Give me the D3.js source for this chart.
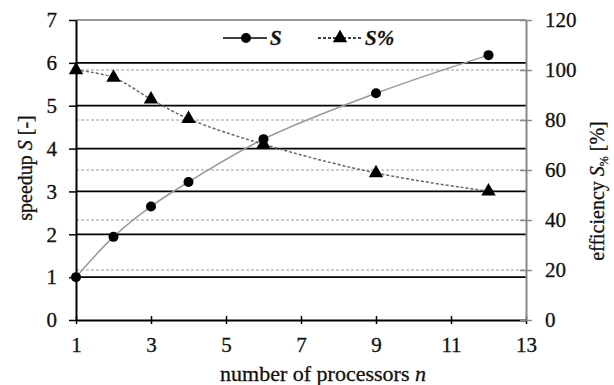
<!DOCTYPE html>
<html><head><meta charset="utf-8">
<script src="https://cdn.jsdelivr.net/npm/d3@7"></script>
<style>
body{margin:0;background:#fff}
text{font-family:"Liberation Serif","Times New Roman",serif;fill:#111;stroke:#111;stroke-width:0.3px}
</style></head><body>
<svg id="c" width="614" height="385"></svg>
<script>
const processors = [1, 2, 3, 4, 6, 9, 12];
const speedup = [1.0, 1.94, 2.65, 3.22, 4.22, 5.29, 6.18];
const efficiency = [100, 97, 88.3, 80.5, 70.3, 58.8, 51.5];
const xTicks = [1, 3, 5, 7, 9, 11, 13];
const yLeftTicks = [0, 1, 2, 3, 4, 5, 6, 7];
const yRightTicks = [0, 20, 40, 60, 80, 100, 120];

const svg = d3.select("#c");
const L = 76, R = 526, T = 20, B = 320;
const x = d3.scaleLinear().domain([1, 13]).range([L, R]);
const yL = d3.scaleLinear().domain([0, 7]).range([B, T]);
const yR = d3.scaleLinear().domain([0, 120]).range([B, T]);

// dashed grid from right axis
svg.append("g").selectAll("line").data(yRightTicks.filter(d => d > 0 && d < 120)).join("line")
  .attr("x1", L).attr("x2", R).attr("y1", d => yR(d)).attr("y2", d => yR(d))
  .attr("stroke", "#999").attr("stroke-width", 1).attr("stroke-dasharray", "3,2");
// top gray line
svg.append("line").attr("x1", L).attr("x2", R).attr("y1", yR(120)).attr("y2", yR(120))
  .attr("stroke", "#999").attr("stroke-width", 2);
// solid black grid from left axis
svg.append("g").selectAll("line").data(yLeftTicks.filter(d => d > 0 && d < 7)).join("line")
  .attr("x1", L).attr("x2", R).attr("y1", d => yL(d)).attr("y2", d => yL(d))
  .attr("stroke", "#000").attr("stroke-width", 1.7);

// axes
const fs = "21px";
const fmt = d3.format("d");
const gx = svg.append("g").attr("transform", `translate(0,${B})`)
  .call(d3.axisBottom(x).tickValues(xTicks).tickFormat(fmt).tickSizeInner(4).tickSizeOuter(0).tickPadding(13));
gx.select(".domain").attr("stroke", "#000").attr("stroke-width", 2);
gx.selectAll(".tick line").attr("stroke", "#000").attr("stroke-width", 1.5).attr("y1", -4);
gx.selectAll("text").style("font-size", fs).attr("fill", "#111");

const gl = svg.append("g").attr("transform", `translate(${L},0)`)
  .call(d3.axisLeft(yL).tickValues(yLeftTicks).tickFormat(fmt).tickSizeInner(7).tickSizeOuter(0).tickPadding(12));
gl.select(".domain").attr("stroke", "#000").attr("stroke-width", 2);
gl.selectAll(".tick line").attr("stroke", "#000").attr("stroke-width", 1.5);
gl.selectAll("text").style("font-size", fs).attr("fill", "#111");

const gr = svg.append("g").attr("transform", `translate(${R},0)`)
  .call(d3.axisRight(yR).tickValues(yRightTicks).tickFormat(fmt).tickSizeInner(6).tickSizeOuter(0).tickPadding(13));
gr.select(".domain").attr("stroke", "#888").attr("stroke-width", 2);
gr.selectAll(".tick line").attr("stroke", "#888").attr("stroke-width", 1.5).attr("x1", -6);
gr.selectAll("text").style("font-size", fs).attr("fill", "#111");

// lines
const pts1 = processors.map((p, i) => [x(p), yL(speedup[i])]);
const pts2 = processors.map((p, i) => [x(p), yR(efficiency[i])]);
const line = d3.line().curve(d3.curveCatmullRom.alpha(0.5));
svg.append("path").attr("d", line(pts1)).attr("fill", "none").attr("stroke", "#999").attr("stroke-width", 1.5);
svg.append("path").attr("d", line(pts2)).attr("fill", "none").attr("stroke", "#666").attr("stroke-width", 1.5).attr("stroke-dasharray", "3,2");

const tri = d3.symbol().type(d3.symbolTriangle).size(90);
svg.append("g").selectAll("path").data(pts2).join("path")
  .attr("d", tri).attr("transform", d => `translate(${d[0]},${d[1]})`).attr("fill", "#000");
svg.append("g").selectAll("circle").data(pts1).join("circle")
  .attr("cx", d => d[0]).attr("cy", d => d[1]).attr("r", 5).attr("fill", "#000");

// legend
const lg = svg.append("g");
lg.append("line").attr("x1", 223).attr("x2", 267).attr("y1", 38).attr("y2", 38).attr("stroke", "#000").attr("stroke-width", 1.5);
lg.append("circle").attr("cx", 246).attr("cy", 38).attr("r", 5).attr("fill", "#000");
lg.append("text").attr("x", 270).attr("y", 45).style("font-size", fs).style("font-style", "italic").style("font-weight", "bold").text("S");
lg.append("line").attr("x1", 318).attr("x2", 363).attr("y1", 38).attr("y2", 38).attr("stroke", "#000").attr("stroke-width", 1.5).attr("stroke-dasharray", "3,2");
lg.append("path").attr("d", tri).attr("transform", "translate(340,38)").attr("fill", "#000");
lg.append("text").attr("x", 365).attr("y", 45).style("font-size", fs).style("font-style", "italic").style("font-weight", "bold").text("S%");

// axis titles
svg.append("text").attr("x", 323).attr("y", 381).attr("text-anchor", "middle").style("font-size", "22px")
  .html('number of processors <tspan font-style="italic">n</tspan>');
svg.append("text").attr("transform", "translate(32,168) rotate(-90)").attr("text-anchor", "middle").style("font-size", "20px")
  .html('speedup <tspan font-style="italic">S</tspan> [-]');
svg.append("text").attr("transform", "translate(604,191) rotate(-90)").attr("text-anchor", "middle").style("font-size", "20px")
  .html('efficiency <tspan font-style="italic">S</tspan><tspan font-size="12px" dy="4">%</tspan><tspan dy="-4"> [%]</tspan>');
</script>
</body></html>
